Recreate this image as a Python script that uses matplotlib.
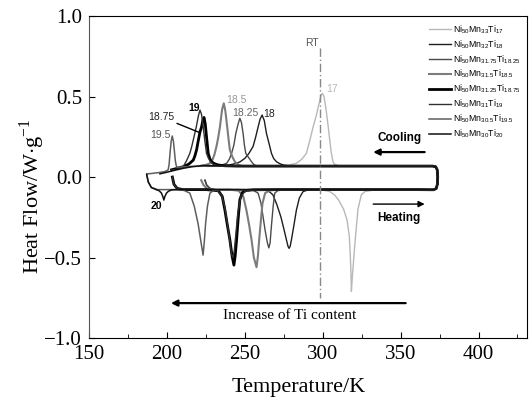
import matplotlib
matplotlib.use("Agg")
import matplotlib.pyplot as plt
from matplotlib.ticker import MultipleLocator

plt.rcParams["font.family"] = ["Liberation Serif", "DejaVu Serif"]
plt.rcParams["mathtext.fontset"] = "custom"
plt.rcParams["mathtext.rm"] = "Liberation Serif"
plt.rcParams["mathtext.sf"] = "Liberation Sans"

# --- DSC loops (T in K, heat flow in W/g) ------------------------------------
# heating branch (low T -> high T); the shared rounded right end; cooling branch
end_T = [371.0, 372.8, 373.6, 373.8, 373.5, 372.5, 370.5]
end_Q = [-0.079, -0.072, -0.045, 0.0, 0.045, 0.064, 0.068]

ti17_heat_T = [224.4, 225.5, 227.5, 231, 240, 260, 290, 300, 304.5, 307.5, 310.2, 313.4,
               315.6, 317.1, 318.0, 318.4, 319.0, 320.5, 322.6, 324.8, 327, 332, 345, 360]
ti17_heat_Q = [-0.02, -0.05, -0.07, -0.078, -0.079, -0.08, -0.08, -0.081, -0.09, -0.11, -0.143, -0.2,
               -0.267, -0.37, -0.557, -0.71, -0.62, -0.43, -0.2, -0.11, -0.09, -0.082, -0.08, -0.079]
ti17_cool_T = [370.5, 340, 320, 310, 307.5, 306.6, 305.5, 304.5, 303.3, 302, 300.8, 299.8, 298.8,
               297.5, 295.8, 293.8, 291.5, 289.5, 286.5, 283, 278, 270, 250, 226]
ti17_cool_Q = [0.068, 0.068, 0.069, 0.071, 0.08, 0.095, 0.15, 0.23, 0.33, 0.43, 0.50, 0.52, 0.505,
               0.45, 0.38, 0.31, 0.22, 0.147, 0.11, 0.085, 0.074, 0.07, 0.068, 0.066]

ti18_heat_T = [224.4, 225.5, 227.5, 231, 245, 262, 265, 268, 270.5, 273.1, 275, 276.7, 277.7, 278.4,
               279.1, 279.9, 281.5, 283.1, 285, 287.4, 290, 294, 300, 330, 360]
ti18_heat_Q = [-0.02, -0.05, -0.07, -0.078, -0.078, -0.08, -0.085, -0.11, -0.17, -0.246, -0.32, -0.39,
               -0.43, -0.443, -0.43, -0.39, -0.30, -0.205, -0.13, -0.09, -0.082, -0.079, -0.078, -0.078, -0.078]
ti18_cool_T = [370.5, 330, 290, 280, 277, 274.6, 272.5, 270.3, 268.5, 267.1, 265.5, 263.9, 262.5,
               261.1, 259.8, 258.5, 257, 255.3, 252.5, 250, 247, 244.7, 240, 232, 226]
ti18_cool_Q = [0.068, 0.068, 0.068, 0.069, 0.071, 0.075, 0.083, 0.095, 0.115, 0.147, 0.21, 0.27, 0.35,
               0.385, 0.36, 0.31, 0.25, 0.19, 0.145, 0.116, 0.095, 0.085, 0.075, 0.07, 0.068]

ti1825_heat_T = [224.4, 225.5, 227.5, 231, 245, 255, 258.5, 260.3, 261.7, 263, 264.5, 265.4, 266.2,
                 267.1, 268.2, 269.2, 271, 274, 280, 300, 360]
ti1825_heat_Q = [-0.02, -0.05, -0.07, -0.078, -0.078, -0.08, -0.1, -0.16, -0.246, -0.33, -0.41, -0.44,
                 -0.41, -0.3, -0.18, -0.1, -0.085, -0.08, -0.078, -0.078, -0.078]
ti1825_cool_T = [370.5, 300, 265, 258, 256, 254.3, 252.5, 250.6, 249.7, 248.9, 247.8, 246.8, 245.7,
                 244.2, 243, 241.5, 240, 238.3, 235, 231, 226]
ti1825_cool_Q = [0.068, 0.068, 0.068, 0.069, 0.075, 0.095, 0.12, 0.147, 0.2, 0.27, 0.34, 0.365, 0.33,
                 0.27, 0.2, 0.147, 0.11, 0.085, 0.074, 0.07, 0.068]

ti185_heat_T = [222, 223.5, 225.5, 229, 240, 246, 249, 251, 252.8, 254.3, 255.8, 257.5, 258.4, 259.2,
                260.3, 261.3, 263, 266, 272, 300, 360]
ti185_heat_Q = [-0.02, -0.05, -0.07, -0.078, -0.078, -0.085, -0.12, -0.205, -0.3, -0.39, -0.5, -0.56,
                -0.49, -0.39, -0.27, -0.165, -0.1, -0.083, -0.078, -0.078, -0.078]
ti185_cool_T = [370.5, 300, 255, 248, 245.5, 243.6, 242, 240.4, 239.5, 238.7, 237.5, 236.5, 235.4,
                234, 233, 231.8, 230.5, 229.2, 227.5, 225, 222]
ti185_cool_Q = [0.068, 0.068, 0.068, 0.069, 0.078, 0.095, 0.125, 0.168, 0.24, 0.31, 0.41, 0.458, 0.42,
                0.31, 0.25, 0.19, 0.14, 0.106, 0.085, 0.075, 0.07]

ti1875_heat_T = [203.5, 204.5, 206.5, 210, 225, 233, 235.5, 237.2, 238.8, 240.4, 241.8, 243, 243.8,
                 244.7, 245.8, 246.8, 248.5, 251, 256, 270, 360]
ti1875_heat_Q = [0.0, -0.045, -0.07, -0.078, -0.078, -0.085, -0.12, -0.205, -0.3, -0.39, -0.49, -0.547,
                 -0.49, -0.39, -0.25, -0.14, -0.095, -0.083, -0.079, -0.078, -0.078]
ti1875_cool_T = [370.5, 300, 245, 237, 232.9, 230.5, 228.6, 227.5, 226.5, 225.4, 224.6, 223.8, 223,
                 222.2, 221.2, 220, 219, 217.9, 216.9, 214, 210.4, 205, 203]
ti1875_cool_Q = [0.068, 0.068, 0.068, 0.07, 0.075, 0.083, 0.095, 0.115, 0.147, 0.25, 0.33, 0.37, 0.35,
                 0.31, 0.28, 0.22, 0.168, 0.13, 0.105, 0.08, 0.064, 0.05, 0.045]

ti19_heat_T = [203.5, 204.5, 206.5, 210, 225, 232, 235, 237, 239, 240.5, 241.5, 242.3, 243.2, 244.2,
               245.5, 247.5, 250, 255, 270, 360]
ti19_heat_Q = [0.0, -0.045, -0.07, -0.078, -0.078, -0.083, -0.11, -0.18, -0.3, -0.41, -0.48, -0.5,
               -0.46, -0.36, -0.22, -0.12, -0.09, -0.08, -0.078, -0.078]
ti19_cool_T = [370.5, 300, 240, 233, 229.5, 227.6, 226.5, 225.4, 224.4, 223.3, 222.2, 221.2, 220.2,
               218.8, 216.9, 215.8, 214.7, 212.5, 210.4, 207, 203]
ti19_cool_Q = [0.068, 0.068, 0.068, 0.07, 0.08, 0.1, 0.12, 0.147, 0.22, 0.31, 0.39, 0.416, 0.38,
               0.31, 0.23, 0.185, 0.147, 0.1, 0.064, 0.05, 0.045]

ti195_heat_T = [187, 188, 190, 194, 205, 211, 214.7, 217.5, 220, 221.8, 223.2, 224, 224.8, 226,
                227.6, 230, 234, 245, 360]
ti195_heat_Q = [0.02, -0.03, -0.065, -0.078, -0.078, -0.083, -0.1, -0.18, -0.29, -0.4, -0.485, -0.4,
                -0.29, -0.18, -0.1, -0.082, -0.079, -0.078, -0.078]
ti195_cool_T = [370.5, 300, 230, 215, 209, 206.5, 206, 205.4, 204.8, 204.2, 203.4, 202.7, 202,
                201.4, 200.8, 199, 195, 190, 187.5]
ti195_cool_Q = [0.068, 0.068, 0.068, 0.066, 0.062, 0.06, 0.07, 0.1, 0.16, 0.22, 0.255, 0.22, 0.15,
                0.08, 0.045, 0.035, 0.028, 0.022, 0.02]

ti20_heat_T = [187, 188, 190, 193, 195, 196.5, 197.5, 198, 198.7, 199.7, 201, 203, 206, 220, 360]
ti20_heat_Q = [0.015, -0.03, -0.065, -0.078, -0.085, -0.1, -0.125, -0.143, -0.12, -0.1, -0.088, -0.08,
               -0.078, -0.078, -0.078]
ti20_cool_T = [370.5, 300, 240, 223.3, 216, 210.4, 205, 200, 195.5]
ti20_cool_Q = [0.068, 0.068, 0.068, 0.072, 0.064, 0.054, 0.042, 0.03, 0.02]

labels = [r"$\mathsf{Ni_{50}Mn_{33}Ti_{17}}$", r"$\mathsf{Ni_{50}Mn_{32}Ti_{18}}$",
          r"$\mathsf{Ni_{50}Mn_{31.75}Ti_{18.25}}$", r"$\mathsf{Ni_{50}Mn_{31.5}Ti_{18.5}}$",
          r"$\mathsf{Ni_{50}Mn_{31.25}Ti_{18.75}}$", r"$\mathsf{Ni_{50}Mn_{31}Ti_{19}}$",
          r"$\mathsf{Ni_{50}Mn_{30.5}Ti_{19.5}}$", r"$\mathsf{Ni_{50}Mn_{30}Ti_{20}}$"]
colors = ["#b8b8b8", "#1e1e1e", "#4a4a4a", "#7c7c7c", "#000000", "#303030", "#5e5e5e", "#111111"]
widths = [1.0, 1.0, 1.0, 1.5, 2.0, 1.0, 1.1, 1.1]

loops = [(ti17_heat_T, ti17_heat_Q, ti17_cool_T, ti17_cool_Q),
         (ti18_heat_T, ti18_heat_Q, ti18_cool_T, ti18_cool_Q),
         (ti1825_heat_T, ti1825_heat_Q, ti1825_cool_T, ti1825_cool_Q),
         (ti185_heat_T, ti185_heat_Q, ti185_cool_T, ti185_cool_Q),
         (ti1875_heat_T, ti1875_heat_Q, ti1875_cool_T, ti1875_cool_Q),
         (ti19_heat_T, ti19_heat_Q, ti19_cool_T, ti19_cool_Q),
         (ti195_heat_T, ti195_heat_Q, ti195_cool_T, ti195_cool_Q),
         (ti20_heat_T, ti20_heat_Q, ti20_cool_T, ti20_cool_Q)]

# peak labels: text, T, Q, colour
peak_text = ["19.5", "19", "18.5", "18.25", "18", "17", "20"]
peak_T = [189.0, 214.0, 238.0, 242.0, 261.5, 302.0, 189.6]
peak_Q = [0.26, 0.43, 0.478, 0.40, 0.39, 0.547, -0.18]
peak_col = ["#555555", "#000000", "#999999", "#666666", "#222222", "#b8b8b8", "#000000"]
peak_bold = [False, True, False, False, False, False, True]

fig = plt.figure(figsize=(5.30, 4.01), dpi=100)
ax = fig.add_axes([0.168, 0.157, 0.826, 0.803])

handles = []
for (hT, hQ, cT, cQ), lab, c, lw in zip(loops, labels, colors, widths):
    ln, = ax.plot(hT + end_T + cT, hQ + end_Q + cQ, color=c, lw=lw, label=lab)
    handles.append(ln)

# room temperature marker
ax.plot([298.5, 298.5], [0.80, -0.75], color="#888888", lw=1.0, ls=(0, (6, 2, 1, 2)))
ax.text(297.5, 0.83, "RT", fontsize=7.5, family="Liberation Sans", color="#555555",
        ha="right", va="center")

for t, x, y, c, b in zip(peak_text, peak_T, peak_Q, peak_col, peak_bold):
    ax.text(x, y, t, fontsize=7.5, family="Liberation Sans", color=c,
            fontweight="bold" if b else "normal", ha="left", va="center")
ax.annotate("18.75", xy=(221.3, 0.275), xytext=(187.9, 0.373), fontsize=7.5,
            family="Liberation Sans", color="#222222", va="center",
            arrowprops=dict(arrowstyle="-", color="#000000", lw=1.0, shrinkA=0, shrinkB=0))

# cooling / heating arrows
ax.annotate("", xy=(330.6, 0.155), xytext=(367.2, 0.155),
            arrowprops=dict(arrowstyle="-|>", color="black", lw=1.6, mutation_scale=9))
ax.text(349, 0.24, "Cooling", fontsize=8.5, family="Liberation Sans", fontweight="bold",
        ha="center", va="center")
ax.annotate("", xy=(367.2, -0.168), xytext=(330.6, -0.168),
            arrowprops=dict(arrowstyle="-|>", color="black", lw=1.0, mutation_scale=9))
ax.text(349, -0.255, "Heating", fontsize=8.5, family="Liberation Sans", fontweight="bold",
        ha="center", va="center")

# Ti content arrow
ax.annotate("", xy=(200.8, -0.783), xytext=(355.0, -0.783),
            arrowprops=dict(arrowstyle="-|>", color="black", lw=1.6, mutation_scale=9))
ax.text(236.0, -0.863, "Increase of Ti content", fontsize=11, ha="left", va="center")

ax.set_xlim(150, 431)
ax.set_ylim(-1.0, 1.0)
ax.xaxis.set_major_locator(MultipleLocator(50))
ax.xaxis.set_minor_locator(MultipleLocator(25))
ax.yaxis.set_major_locator(MultipleLocator(0.5))
ax.tick_params(axis="both", which="both", direction="in", labelsize=15)
ax.tick_params(which="major", length=4)
ax.tick_params(which="minor", length=3)
ax.tick_params(axis="x", pad=5)
ax.tick_params(axis="y", pad=5)
ax.yaxis.set_major_formatter(plt.FuncFormatter(lambda v, p: f"{v:.1f}".replace("-", "\u2212")))
ax.spines["left"].set_color("#555555")

ax.set_xlabel("Temperature/K", fontsize=16)
ax.set_ylabel(r"Heat Flow/W$\cdot$g$^{-1}$", fontsize=16)
ax.xaxis.set_label_coords(0.48, -0.125)
ax.yaxis.set_label_coords(-0.095, 0.44)

ax.legend(handles=handles, loc="upper left", bbox_to_anchor=(0.776, 0.978), frameon=False,
          fontsize=6.3, handlelength=2.5, handletextpad=0.25, labelspacing=0.28,
          borderpad=0, borderaxespad=0)

fig.savefig("out.png", dpi=100)
